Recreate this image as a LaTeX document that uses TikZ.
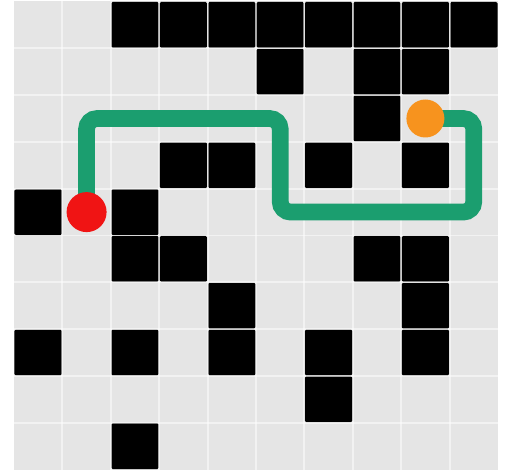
\documentclass[tikz,border=0pt]{standalone}
\usepackage{tikz}
\usepackage{xcolor}
\definecolor{cellgray}{HTML}{E5E5E5}
\definecolor{pathgreen}{HTML}{1B9E6F}
\definecolor{startred}{HTML}{F01414}
\definecolor{goalorange}{HTML}{F7931E}

\begin{document}
\begin{tikzpicture}[x=0.968cm,y=0.936cm]
  \useasboundingbox (-0.289,-0.032) rectangle (10.372,10.032);
  % board
  \fill[cellgray] (0,0) rectangle (10,10);
  % walls, given as column/row counted from the top left
  \foreach \c/\r in {2/0,3/0,4/0,5/0,6/0,7/0,8/0,9/0,
                     5/1,7/1,8/1,
                     7/2,
                     3/3,4/3,6/3,8/3,
                     0/4,2/4,
                     2/5,3/5,7/5,8/5,
                     4/6,8/6,
                     0/7,2/7,4/7,6/7,8/7,
                     6/8,
                     2/9}
    \fill[black,rounded corners=0.8pt] (\c+0.01,9.99-\r) rectangle (\c+0.99,9.01-\r);
  \foreach \i in {1,...,9} {
    \draw[white,opacity=0.5,line width=1.1pt] (\i,0) -- (\i,10);
    \draw[white,opacity=0.5,line width=1.1pt] (0,\i) -- (10,\i);
  }
  % route
  \coordinate (start) at (1.5,5.5);
  \coordinate (goal) at (8.5,7.5);
  \draw[pathgreen,line width=9.5pt,rounded corners=6pt]
    (start) |- (5.5,7.5) |- (9.5,5.5) |- (goal);
  \fill[startred] (start) circle (0.4cm);
  \fill[goalorange] (goal) circle (0.38cm);
\end{tikzpicture}
\end{document}
